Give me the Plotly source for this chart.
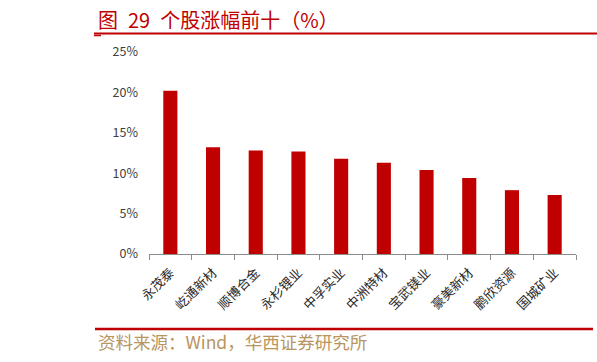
import plotly.graph_objects as go

categories = ["永茂泰", "屹通新材", "顺博合金", "永杉锂业", "中孚实业",
              "中洲特材", "宝武镁业", "豪美新材", "鹏欣资源", "国城矿业"]
values = [20.2, 13.2, 12.8, 12.7, 11.8, 11.3, 10.4, 9.4, 7.9, 7.3]
y_ticks = [0, 5, 10, 15, 20, 25]
y_tick_labels = ["0%", "5%", "10%", "15%", "20%", "25%"]

W, H = 597, 362
FONT = "Noto Sans CJK SC"

fig = go.Figure(go.Bar(
    x=categories, y=values, marker=dict(color="#C00000", line=dict(width=0)),
    width=0.33, hoverinfo="skip"
))

fig.update_layout(
    width=W, height=H, margin=dict(l=0, r=0, t=0, b=0, autoexpand=False),
    paper_bgcolor="white", plot_bgcolor="white", showlegend=False,
    font=dict(family=FONT, color="#404040", size=12),
    xaxis=dict(domain=[149 / W, 576 / W], showline=True, linecolor="#8c8c8c", linewidth=1,
               ticks="outside", tickson="boundaries", ticklen=5, tickcolor="#8c8c8c",
               tickangle=-45, tickfont=dict(size=13, color="#262626", family=FONT),
               ticklabelstandoff=5, showgrid=False, automargin=False),
    yaxis=dict(domain=[1 - 254 / H, 1 - 52 / H], range=[0, 25], tickvals=y_ticks,
               ticktext=y_tick_labels, showgrid=False, zeroline=False, showline=False,
               ticks="", ticklabelstandoff=10, automargin=False,
               tickfont=dict(size=12.5, color="#404040", family=FONT)),
    shapes=[
        dict(type="line", xref="paper", yref="paper", x0=94 / W, x1=1, y0=1 - 33.5 / H, y1=1 - 33.5 / H,
             line=dict(color="#C00000", width=2)),
        dict(type="line", xref="paper", yref="paper", x0=94 / W, x1=101 / W, y0=1 - 35.5 / H, y1=1 - 35.5 / H,
             line=dict(color="#C00000", width=1.5)),
        dict(type="line", xref="paper", yref="paper", x0=95 / W, x1=593 / W, y0=1 - 329 / H, y1=1 - 329 / H,
             line=dict(color="#C00000", width=2.5)),
    ],
    annotations=[
        dict(text="图\u200229\u2002个股涨幅前十（%）", xref="paper", yref="paper", x=96 / W, y=1 - 20 / H,
             xanchor="left", yanchor="middle", showarrow=False,
             font=dict(size=20, color="#C00000", family=FONT)),
        dict(text="资料来源：Wind，华西证券研究所", xref="paper", yref="paper", x=96 / W, y=1 - 341 / H,
             xanchor="left", yanchor="middle", showarrow=False,
             font=dict(size=17.5, color="#B8955E", family=FONT)),
    ],
)

fig.write_html("out.html")
